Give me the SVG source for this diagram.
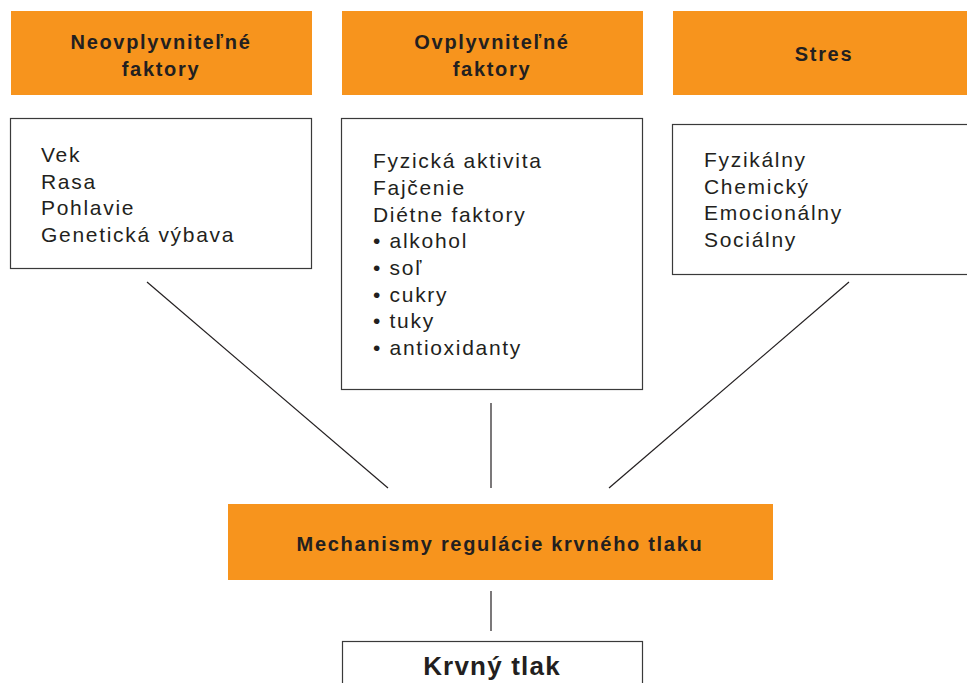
<svg xmlns="http://www.w3.org/2000/svg" width="967" height="683" viewBox="0 0 967 683">
<style>
.hdr{fill:#f7941d}
.box{fill:#fff;stroke:#3a3a3a;stroke-width:1.2}
.ht{font-family:"Liberation Sans",Arial,sans-serif;font-weight:bold;font-size:20px;fill:#231f20;text-anchor:middle;letter-spacing:1.7px}
.bt{font-family:"Liberation Sans",Arial,sans-serif;font-size:21px;fill:#231f20;letter-spacing:1.7px}
.ln{stroke:#231f20;stroke-width:1.2;fill:none}
</style>
<rect width="967" height="683" fill="#fff"/>
<g id="h1"><rect class="hdr" x="11" y="11" width="301" height="84"/><text class="ht" x="161" y="49">Neovplyvniteľné</text><text class="ht" x="161" y="76">faktory</text></g>
<g id="h2"><rect class="hdr" x="342" y="11" width="301" height="84"/><text class="ht" x="492" y="49">Ovplyvniteľné</text><text class="ht" x="492" y="76">faktory</text></g>
<g id="h3"><rect class="hdr" x="673" y="11" width="294" height="84"/><text class="ht" x="824" y="61">Stres</text></g>
<g id="b1"><rect class="box" x="10.5" y="118.5" width="301" height="150"/>
<text class="bt" x="41" y="162">Vek</text><text class="bt" x="41" y="189">Rasa</text><text class="bt" x="41" y="215">Pohlavie</text><text class="bt" x="41" y="242">Genetická výbava</text></g>
<g id="b2"><rect class="box" x="341.5" y="118.5" width="301" height="271"/>
<text class="bt" x="373" y="168">Fyzická aktivita</text><text class="bt" x="373" y="195">Fajčenie</text><text class="bt" x="373" y="222">Diétne faktory</text><text class="bt" x="373" y="248">• alkohol</text><text class="bt" x="373" y="275">• soľ</text><text class="bt" x="373" y="302">• cukry</text><text class="bt" x="373" y="328">• tuky</text><text class="bt" x="373" y="355">• antioxidanty</text></g>
<g id="b3"><rect class="box" x="672.5" y="124.5" width="300" height="150"/>
<text class="bt" x="704" y="167">Fyzikálny</text><text class="bt" x="704" y="194">Chemický</text><text class="bt" x="704" y="220">Emocionálny</text><text class="bt" x="704" y="247">Sociálny</text></g>
<g id="mech"><rect class="hdr" x="228" y="504" width="545" height="76"/><text class="ht" x="500" y="551">Mechanismy regulácie krvného tlaku</text></g>
<g id="bp"><rect class="box" x="342.5" y="641.5" width="300" height="50"/><text class="ht" x="492" y="675" style="font-size:26px;letter-spacing:1.2px">Krvný tlak</text></g>
<g id="connectors">
<line class="ln" x1="147" y1="282" x2="388" y2="488"/>
<line class="ln" x1="491" y1="403" x2="491" y2="488"/>
<line class="ln" x1="849" y1="282" x2="609" y2="488"/>
<line class="ln" x1="491" y1="591" x2="491" y2="631"/>
</g>
</svg>
